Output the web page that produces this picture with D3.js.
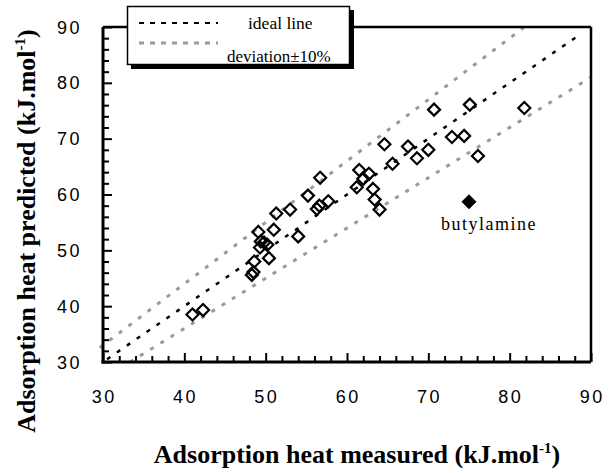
<!DOCTYPE html>
<html>
<head>
<meta charset="utf-8">
<script src="https://d3js.org/d3.v7.min.js"></script>
<style>
    body { margin: 0; background: #fff; }
    .tick-label { font: 18px "Liberation Sans", Arial, sans-serif; letter-spacing: 2.5px; fill: #000; }
    .title { font: bold 26px "Liberation Serif", "Times New Roman", serif; fill: #000; }
    .leg { font-family: "Liberation Serif", "Times New Roman", serif; fill: #000; }
</style>
</head>
<body>
<svg id="chart" width="612" height="473"></svg>
<script>
    // measured vs predicted adsorption heat (kJ/mol)
    var measured = [41.0, 42.3, 48.3, 48.5, 48.6, 49.1, 49.4, 49.3, 49.8, 50.2, 50.4, 51.0, 51.3, 53.0, 54.0,
        55.2, 56.3, 56.6, 56.7, 57.7, 61.2, 61.5, 62.0, 62.7, 63.2, 63.4, 64.0, 64.6, 65.6, 67.5,
        68.6, 70.0, 70.7, 72.9, 74.4, 75.1, 76.1, 81.8];
    var predicted = [38.5, 39.3, 45.6, 46.1, 48.0, 53.3, 51.6, 50.5, 51.4, 51.0, 48.6, 53.7, 56.6, 57.3, 52.5,
        59.8, 57.4, 58.0, 63.0, 58.8, 61.3, 64.4, 62.8, 63.7, 61.0, 59.1, 57.3, 69.0, 65.5, 68.6,
        66.5, 68.0, 75.2, 70.3, 70.5, 76.1, 66.9, 75.5];
    var outlierName = "butylamine";
    var outlier = [75.0, 58.7];
    var ticks = [30, 40, 50, 60, 70, 80, 90];
    var minorTicks = d3.range(30, 91, 2);
    var idealLine = [[30.5, 30.5], [88.6, 88.6]];
    var upperLine = [[29.6, 29.6 * 1.1], [81.8, 81.8 * 1.1]];
    var lowerLine = [[33.3, 33.3 * 0.9], [90, 90 * 0.9]];

    (function () {
    var svg = d3.select("#chart");
    var mLeft = 103, mRight = 591, mTop = 27, mBottom = 362;

    var x = d3.scaleLinear().domain([30, 90]).range([mLeft, mRight]);
    var y = d3.scaleLinear().domain([30, 90]).range([mBottom, mTop]);

    var g = svg.append("g");

    // reference lines
    var line = d3.line().x(function (d) { return x(d[0]); }).y(function (d) { return y(d[1]); });
    g.append("path").datum(upperLine).attr("d", line)
        .attr("stroke", "#9a9a9a").attr("stroke-width", 3).attr("stroke-dasharray", "4,8").attr("fill", "none");
    g.append("path").datum(lowerLine).attr("d", line)
        .attr("stroke", "#9a9a9a").attr("stroke-width", 3).attr("stroke-dasharray", "4,8").attr("fill", "none");
    g.append("path").datum(idealLine).attr("d", line)
        .attr("stroke", "#000").attr("stroke-width", 2.5).attr("stroke-dasharray", "4,8").attr("fill", "none");

    // points
    var diamond = "M0,-6L6,0L0,6L-6,0Z";
    g.selectAll("path.pt").data(measured).enter().append("path")
        .attr("class", "pt")
        .attr("d", diamond)
        .attr("transform", function (d, i) { return "translate(" + x(d) + "," + y(predicted[i]) + ")"; })
        .attr("fill", "none").attr("stroke", "#000").attr("stroke-width", 2.2);
    g.append("path").attr("d", "M0,-7L7,0L0,7L-7,0Z")
        .attr("transform", "translate(" + x(outlier[0]) + "," + y(outlier[1]) + ")")
        .attr("fill", "#000").attr("stroke", "#000").attr("stroke-width", 1);
    g.append("text").attr("class", "leg")
        .attr("x", x(outlier[0]) + 20).attr("y", y(outlier[1]) + 28)
        .attr("text-anchor", "middle").style("font-size", "18px").style("letter-spacing", "1.5px")
        .text(outlierName);

    // frame
    var frame = svg.append("g").attr("stroke", "#000").attr("fill", "none");
    frame.append("line").attr("x1", mLeft).attr("x2", mRight).attr("y1", mTop).attr("y2", mTop).attr("stroke-width", 2.5);
    frame.append("line").attr("x1", mRight).attr("x2", mRight).attr("y1", mTop).attr("y2", mBottom).attr("stroke-width", 2.5);

    // axes
    var xAxis = d3.axisBottom(x).tickValues(minorTicks)
        .tickSize(-6).tickFormat("");
    var xa = svg.append("g").attr("transform", "translate(0," + mBottom + ")").call(xAxis);
    var yAxis = d3.axisLeft(y).tickValues(minorTicks)
        .tickSize(-6).tickFormat("");
    var ya = svg.append("g").attr("transform", "translate(" + mLeft + ",0)").call(yAxis);
    xa.select(".domain").attr("stroke-width", 3).attr("d", "M" + (mLeft - 1.5) + ",0H" + mRight);
    ya.select(".domain").attr("stroke-width", 3).attr("d", "M0," + (mBottom + 1.5) + "V" + mTop);
    svg.selectAll(".tick line").attr("stroke-width", 2);
    xa.selectAll(".tick line").filter(function (d) { return d % 10 === 0; }).attr("y2", -9);
    ya.selectAll(".tick line").filter(function (d) { return d % 10 === 0; }).attr("x2", 9);

    svg.selectAll("text.xl").data(ticks).enter().append("text")
        .attr("class", "tick-label xl")
        .attr("x", function (d) { return x(d) + 1.2; }).attr("y", 403)
        .attr("text-anchor", "middle").text(function (d) { return d; });
    svg.selectAll("text.yl").data(ticks).enter().append("text")
        .attr("class", "tick-label yl")
        .attr("x", 82).attr("y", function (d) { return y(d) + 6.5; })
        .attr("text-anchor", "end").text(function (d) { return d; });

    // titles
    svg.append("text").attr("class", "title").attr("x", 357).attr("y", 463)
        .attr("text-anchor", "middle")
        .html('Adsorption heat measured (kJ.mol<tspan dy="-10" style="font-size:15px">-1</tspan><tspan dy="10">)</tspan>');
    svg.append("text").attr("class", "title")
        .attr("transform", "translate(35,231) rotate(-90)")
        .attr("text-anchor", "middle")
        .html('Adsorption heat predicted (kJ.mol<tspan dy="-10" style="font-size:15px">-1</tspan><tspan dy="10">)</tspan>');

    // legend
    var leg = svg.append("g");
    leg.append("rect").attr("x", 131).attr("y", 10).attr("width", 223).attr("height", 59).attr("fill", "#000");
    leg.append("rect").attr("x", 127.5).attr("y", 6.5).attr("width", 222).attr("height", 58)
        .attr("fill", "#fff").attr("stroke", "#000").attr("stroke-width", 1.5);
    leg.append("line").attr("x1", 139).attr("x2", 218).attr("y1", 23).attr("y2", 23)
        .attr("stroke", "#000").attr("stroke-width", 2).attr("stroke-dasharray", "5,6");
    leg.append("line").attr("x1", 139).attr("x2", 218).attr("y1", 43).attr("y2", 43)
        .attr("stroke", "#9a9a9a").attr("stroke-width", 3).attr("stroke-dasharray", "5,6");
    leg.append("text").attr("class", "leg").attr("x", 248).attr("y", 29)
        .style("font-size", "17.5px").text("ideal line");
    leg.append("text").attr("class", "leg").attr("x", 227).attr("y", 62)
        .style("font-size", "17px").text("deviation\u00b110%");
    })();
</script>
</body>
</html>
